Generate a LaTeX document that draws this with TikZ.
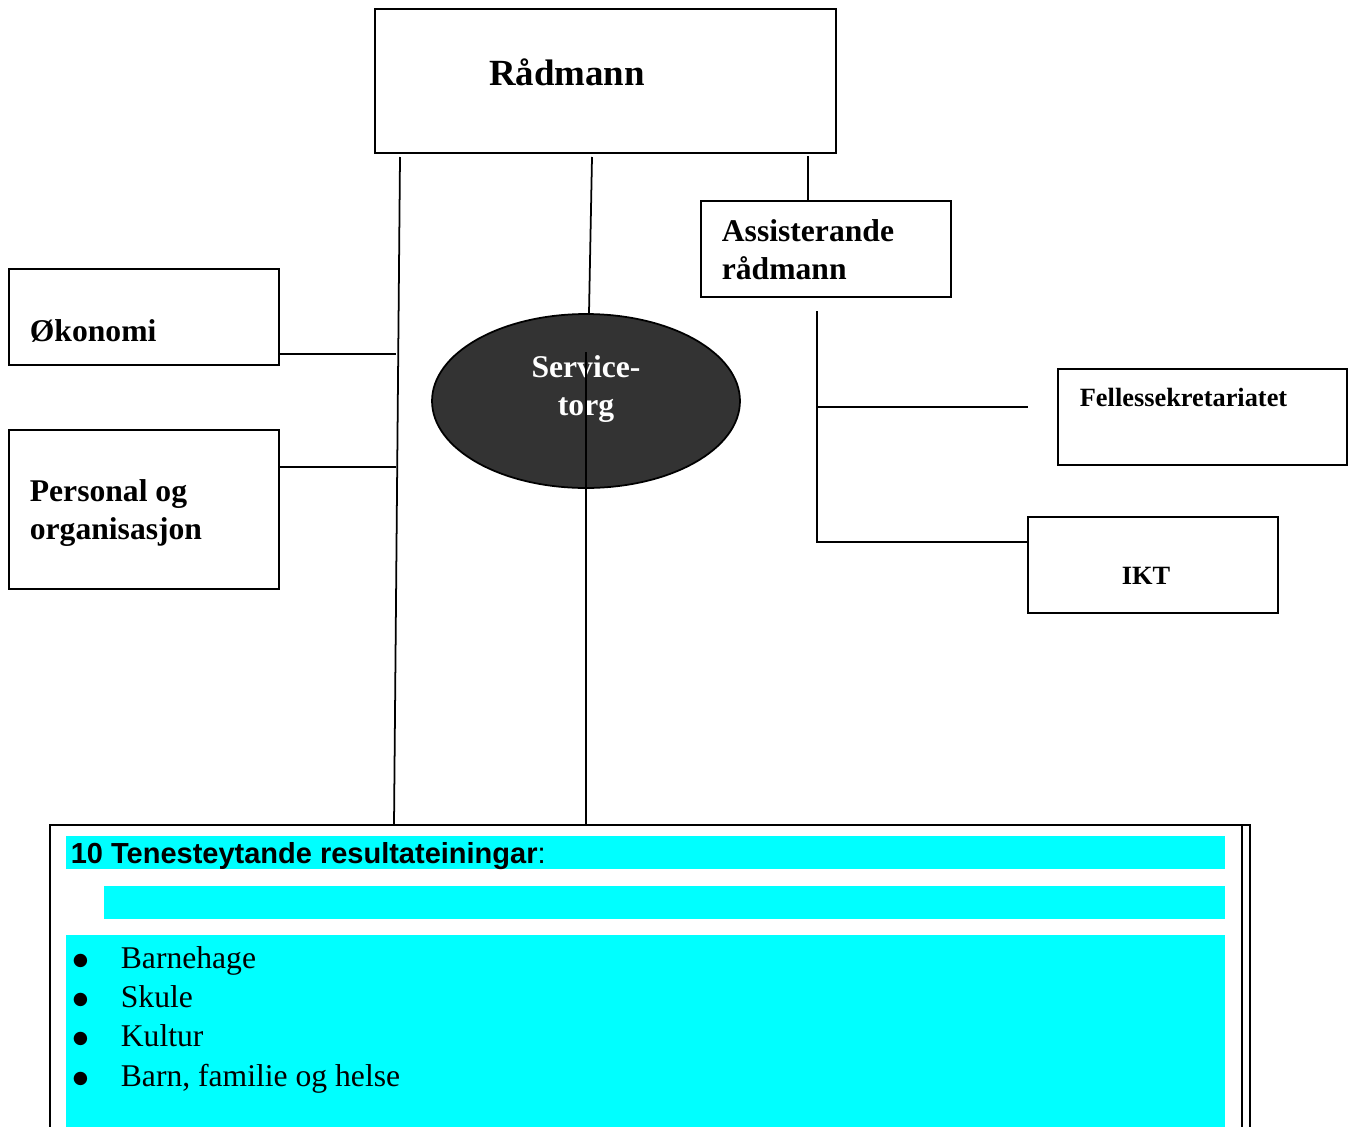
\documentclass[tikz,border=0pt]{standalone}
\usepackage{fontspec}
\setmainfont{Liberation Serif}
\setsansfont{Liberation Sans}
\newfontfamily\dotfont{DejaVu Sans}
\usetikzlibrary{shapes.geometric}
\definecolor{torggray}{HTML}{333333}
\definecolor{resultcyan}{HTML}{00FFFF}
\newcommand{\itemdot}{\makebox[0.96cm][l]{\raisebox{1.3pt}{\dotfont\fontsize{10}{10}\selectfont ●}}}

\begin{document}
\begin{tikzpicture}[x=0.02cm, y=-0.02cm, line width=1pt,
  unitbox/.style={draw, rectangle, inner sep=0pt},
  unitlabel/.style={inner sep=0pt, align=left, font=\bfseries\fontsize{18}{21.5}\selectfont},
  listitem/.style={anchor=base west, inner sep=0pt, font=\fontsize{18}{22}\selectfont}]
  \useasboundingbox (0,0) rectangle (1355,1126);

  % boxes
  \node[unitbox, minimum width=9.22cm, minimum height=2.88cm] (rad) at (605.5,81) {};
  \node[unitbox, minimum width=5cm, minimum height=1.92cm] (ast) at (826,249) {};
  \node[unitbox, minimum width=5.4cm, minimum height=1.92cm] (oko) at (144,317) {};
  \node[unitbox, minimum width=5.4cm, minimum height=3.18cm] (per) at (144,509.5) {};
  \node[unitbox, minimum width=5.78cm, minimum height=1.92cm] (fel) at (1202.5,417) {};
  \node[unitbox, minimum width=5cm, minimum height=1.92cm] (ikt) at (1153,565) {};
  \node[unitbox, minimum width=24cm, minimum height=6.3cm] (res) at (650,982.5) {};
  \draw ([xshift=-0.18cm]res.north east) -- ([xshift=-0.18cm]res.south east);

  % cyan bands of the result box
  \fill[resultcyan] (66,836) rectangle (1225,869);
  \fill[resultcyan] (104,886) rectangle (1225,919);
  \fill[resultcyan] (66,935) rectangle (1225,1140);

  % labels
  \node[unitlabel, anchor=base, font=\bfseries\fontsize{21}{25}\selectfont] (radt) at (567,85) {Rådmann};
  \node[unitlabel, anchor=west] (astt) at (721,250) {Assisterande\\rådmann};
  \node[unitlabel, anchor=base west] (okot) at (29,341) {Økonomi};
  \node[unitlabel, anchor=west] (pert) at (29,513) {Personal og\\organisasjon};
  \node[unitlabel, anchor=base west, font=\bfseries\fontsize{15}{18}\selectfont] (felt) at (1079,406) {Fellessekretariatet};
  \node[unitlabel, anchor=base, font=\bfseries\fontsize{15}{18}\selectfont] (iktt) at (1146,584) {IKT};

  % service point
  \node[ellipse, draw, fill=torggray, minimum width=6.16cm, minimum height=3.48cm] (svc) at (586,401) {};
  \node[unitlabel, align=center, text=white, font=\bfseries\fontsize{18}{22}\selectfont] (svct) at (586,389) {Service-\\torg};

  % connectors
  \coordinate (l1) at (400,157);
  \coordinate (l1e) at (394,825);
  \coordinate (l2) at (592,157);
  \coordinate (l3) at (586,352);
  \coordinate (a0) at (817,311);
  \coordinate (a1) at (817,407);
  \draw (l1) -- (l1e);
  \draw (l2) -- ([xshift=0.06cm]svc.north);
  \draw (l3) -- (l3 |- res.north);
  \draw ([xshift=-0.36cm]ast.north) -- ++(0,-44);
  \draw ([yshift=0.24cm]oko.south east) -- ++(116,0);
  \draw ([yshift=-0.76cm]per.north east) -- ++(116,0);
  \draw (a0) |- ([yshift=0.46cm]ikt.west);
  \draw (a1) -- ++(211,0);

  % result units
  \node[anchor=base west, inner sep=0pt, font=\sffamily\bfseries\fontsize{16.5}{20}\selectfont] (head) at (70,863.5) {10 Tenesteytande resultateiningar\textmd{:}};
  \node[listitem] (b1) at (72,968) {\itemdot Barnehage};
  \node[listitem] (b2) at (72,1007) {\itemdot Skule};
  \node[listitem] (b3) at (72,1046) {\itemdot Kultur};
  \node[listitem] (b4) at (72,1086) {\itemdot Barn, familie og helse};
\end{tikzpicture}
\end{document}
